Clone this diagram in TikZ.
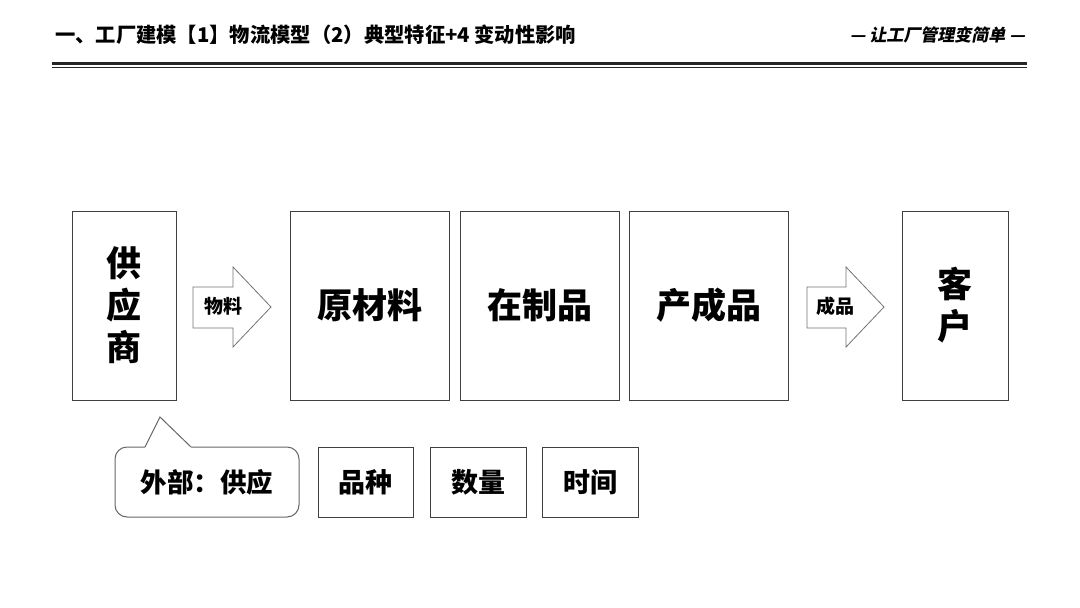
\documentclass[tikz,border=0pt]{standalone}
\usepackage{fontspec}
\setmainfont{Noto Sans CJK SC}
\newfontfamily\slantcjk{Noto Sans CJK SC}[FakeSlant=0.2]
\begin{document}
\begin{tikzpicture}[x=1pt,y=-1pt,
  bigbox/.style={draw=black!75,line width=1pt,minimum height=189pt,inner sep=0pt,font=\bfseries\fontsize{35}{42}\selectfont,align=center},
  smallbox/.style={draw=black!75,line width=1pt,minimum height=70pt,minimum width=96pt,inner sep=0pt,font=\bfseries\fontsize{27}{30}\selectfont},
  blockarrow/.style={draw=black!55,line width=0.8pt,fill=white},
  arrowlabel/.style={font=\bfseries\fontsize{19}{22}\selectfont,inner sep=0pt}
]
\useasboundingbox (0,0) rectangle (1080,608);
% header
\node[anchor=west,inner sep=0pt,font=\bfseries\fontsize{20.3}{24}\selectfont] (title) at (55,35) {一、工厂建模【1】物流模型（2）典型特征+4 变动性影响};
\node[anchor=east,inner sep=0pt,font=\slantcjk\bfseries\fontsize{17}{20}\selectfont] (motto) at (1025,35) {— 让工厂管理变简单 —};
\coordinate (l1a) at (52,63.5); \coordinate (l1b) at (1027,63.5);
\coordinate (l2a) at (52,67.5); \coordinate (l2b) at (1027,67.5);
\draw[line width=2.2pt,black!85] (l1a) -- (l1b);
\draw[line width=1.4pt,black!85] (l2a) -- (l2b);
% main boxes
\node[bigbox,minimum width=104pt] (sup) at (124,305.5) {供\\应\\商};
\node[bigbox,minimum width=159pt] (raw) at (369.5,305.5) {原材料};
\node[bigbox,minimum width=159pt] (wip) at (539.5,305.5) {在制品};
\node[bigbox,minimum width=159pt] (fin) at (708.5,305.5) {产成品};
\node[bigbox,minimum width=106pt] (cus) at (955,305.5) {客\\户};
% block arrows
\draw[blockarrow] (193,287) -- (233,287) -- (233,267) -- (271,307) -- (233,347) -- (233,328) -- (193,328) -- cycle;
\node[arrowlabel] (matl) at (223,306) {物料};
\draw[blockarrow] (807,287) -- (846,287) -- (846,267) -- (884,307) -- (846,347) -- (846,328) -- (807,328) -- cycle;
\node[arrowlabel] (prod) at (835,306) {成品};
% callout
\node[draw=black!60,line width=1pt,rounded corners=12pt,minimum width=184pt,minimum height=70pt,inner sep=0pt,font=\bfseries\fontsize{26.5}{30}\selectfont] (ext) at (207,482) {外部：供应};
\coordinate (pl) at (145,447);
\coordinate (pt) at (160,417);
\coordinate (pr) at (191,447);
\fill[white] (pl) -- (pt) -- (pr) -- ([yshift=-1.5pt]pr) -- ([yshift=-1.5pt]pl) -- cycle;
\draw[black!60,line width=1pt] (pl) -- (pt) -- (pr);
% small boxes
\node[smallbox,minimum width=95pt] (kind) at (365.5,482.5) {品种};
\node[smallbox] (qty) at (478,482) {数量};
\node[smallbox] (time) at (590,482) {时间};
\end{tikzpicture}
\end{document}
